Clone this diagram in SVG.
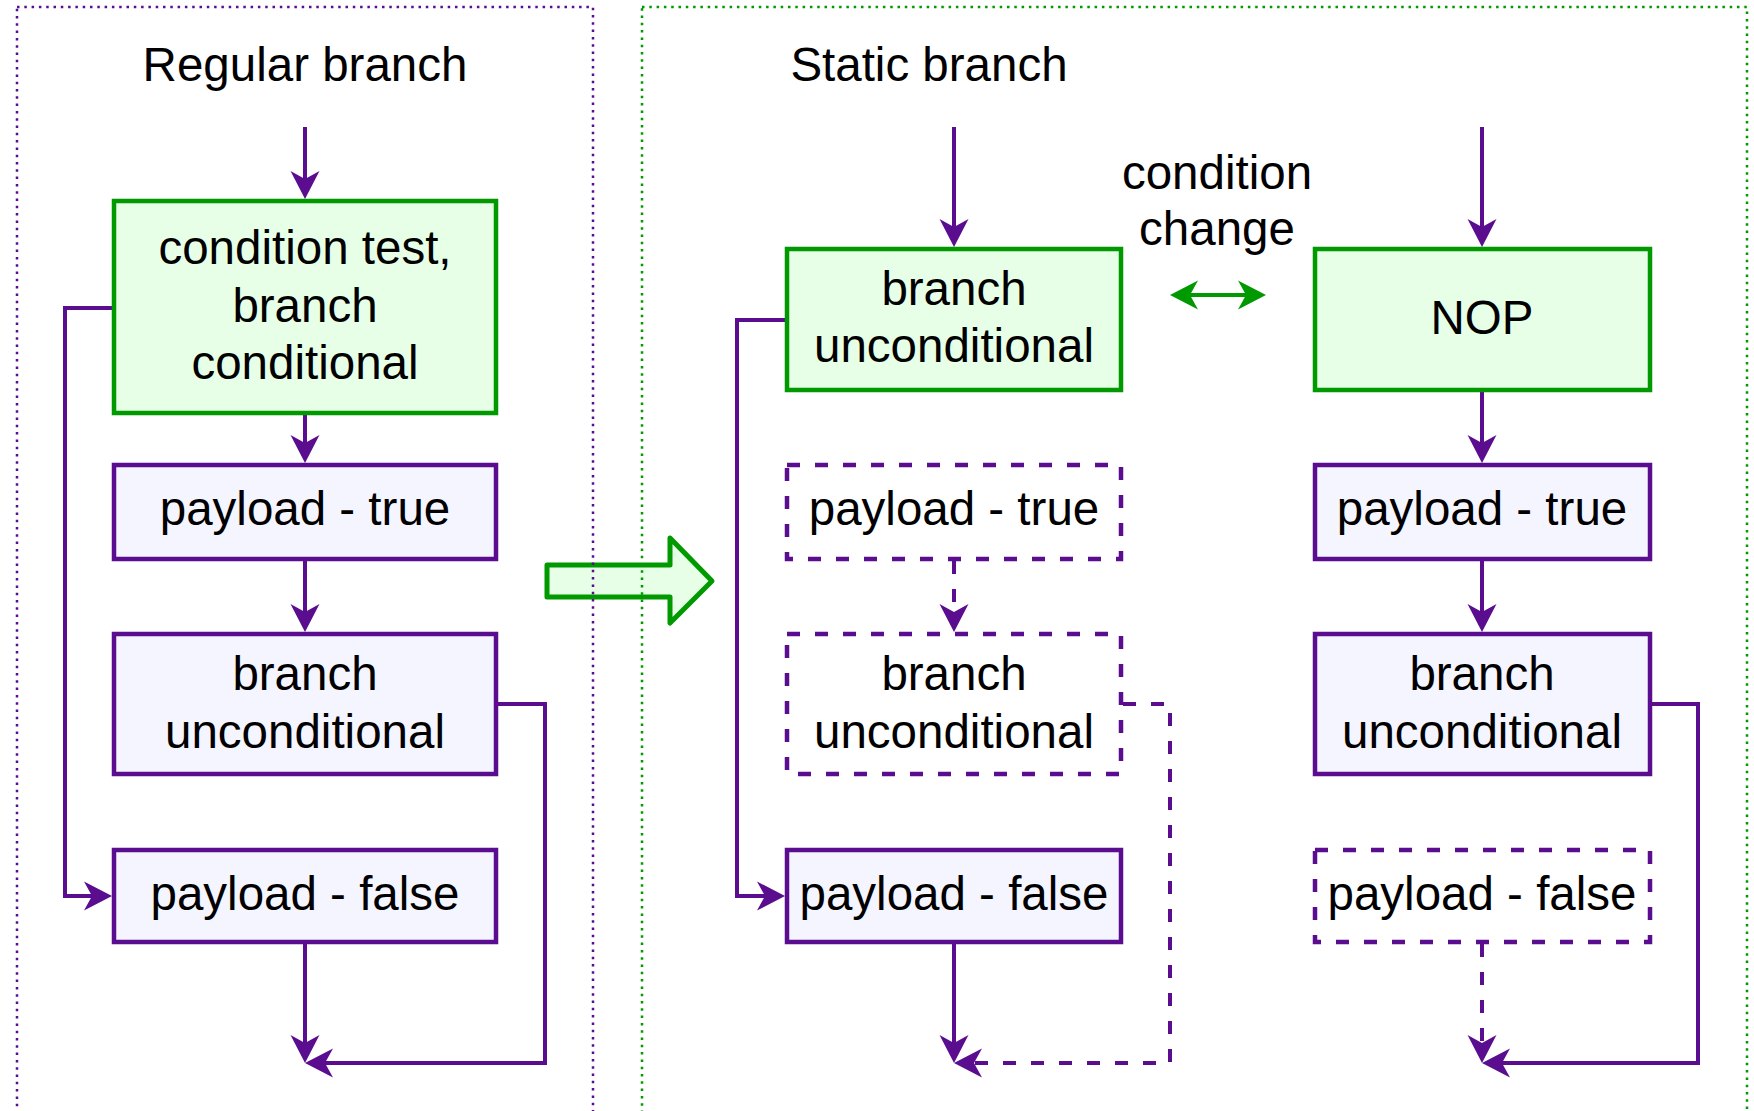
<svg xmlns="http://www.w3.org/2000/svg" width="1754" height="1111" viewBox="0 0 1754 1111">
<style>
text{font-family:"Liberation Sans",Arial,sans-serif;font-size:47.5px;fill:#000;text-anchor:middle}
.g{fill:#E6FFE6;stroke:#009900;stroke-width:4.5}
.p{fill:#F5F5FF;stroke:#5B0D8F;stroke-width:4.5}
.pd{fill:#FFFFFF;stroke:#5B0D8F;stroke-width:4.5;stroke-dasharray:13 15}
.c{fill:none;stroke:#5B0D8F;stroke-width:4;marker-end:url(#arr)}
.cd{fill:none;stroke:#5B0D8F;stroke-width:4;stroke-dasharray:13 15;marker-end:url(#arr)}
</style>
<defs>
<marker id="arr" markerUnits="userSpaceOnUse" markerWidth="30" markerHeight="32" viewBox="0 -16 30 32" refX="8" refY="0" orient="auto">
<path d="M28,0 L0,-14.5 L8,0 L0,14.5 Z" fill="#5B0D8F"/>
</marker>
<marker id="garr" markerUnits="userSpaceOnUse" markerWidth="30" markerHeight="32" viewBox="0 -16 30 32" refX="8" refY="0" orient="auto-start-reverse">
<path d="M28,0 L0,-14.5 L8,0 L0,14.5 Z" fill="#009900"/>
</marker>
</defs>
<rect width="1754" height="1111" fill="#FFFFFF"/>
<g id="big-arrow">
<path d="M547,565 H670 V538 L712,581 L670,623 V597 H547 Z" fill="#E6FFE6" stroke="#009900" stroke-width="5" stroke-linejoin="round"/>
</g>
<g id="panels">
<rect x="17" y="7" width="576" height="1200" fill="none" stroke="#5B0D8F" stroke-width="2.5" stroke-dasharray="2.5 4.8"/>
<rect x="642" y="7" width="1105" height="1200" fill="none" stroke="#009900" stroke-width="2.5" stroke-dasharray="2.5 4.8"/>
</g>
<g id="titles">
<text x="305" y="81">Regular branch</text>
<text x="929" y="81">Static branch</text>
</g>
<g id="condition-change">
<text x="1217" y="189">condition</text>
<text x="1217" y="245">change</text>
<line x1="1190" y1="295" x2="1246" y2="295" stroke="#009900" stroke-width="4" marker-start="url(#garr)" marker-end="url(#garr)"/>
</g>
<g id="connectors">
<path class="c" d="M305,127 V179"/>
<path class="c" d="M305,415 V443"/>
<path class="c" d="M305,561 V612"/>
<path class="c" d="M305,944 V1043"/>
<path class="c" d="M498,704 H545 V1063 H325"/>
<path class="c" d="M112,308 H65 V896 H92"/>
<path class="c" d="M954,127 V227"/>
<path class="cd" d="M954,561 V612"/>
<path class="c" d="M954,944 V1043"/>
<path class="cd" d="M1123,704 H1170 V1063 H974"/>
<path class="c" d="M785,320 H737 V896 H765"/>
<path class="c" d="M1482,127 V227"/>
<path class="c" d="M1482,392 V443"/>
<path class="c" d="M1482,561 V612"/>
<path class="cd" d="M1482,944 V1043"/>
<path class="c" d="M1652,704 H1698 V1063 H1502"/>
</g>
<g id="reg-cond">
<rect class="g" x="114" y="201" width="382" height="212"/>
<text x="305" y="264">condition test,</text>
<text x="305" y="321.5">branch</text>
<text x="305" y="379">conditional</text>
</g>
<g id="reg-true">
<rect class="p" x="114" y="465" width="382" height="94"/>
<text x="305" y="525">payload - true</text>
</g>
<g id="reg-uncond">
<rect class="p" x="114" y="634" width="382" height="140"/>
<text x="305" y="690">branch</text>
<text x="305" y="748">unconditional</text>
</g>
<g id="reg-false">
<rect class="p" x="114" y="850" width="382" height="92"/>
<text x="305" y="910">payload - false</text>
</g>
<g id="st-uncond-top">
<rect class="g" x="787" y="249" width="334" height="141"/>
<text x="954" y="305">branch</text>
<text x="954" y="362">unconditional</text>
</g>
<g id="st-true">
<rect class="pd" x="787" y="465" width="334" height="94"/>
<text x="954" y="525">payload - true</text>
</g>
<g id="st-uncond">
<rect class="pd" x="787" y="634" width="334" height="140"/>
<text x="954" y="690">branch</text>
<text x="954" y="748">unconditional</text>
</g>
<g id="st-false">
<rect class="p" x="787" y="850" width="334" height="92"/>
<text x="954" y="910">payload - false</text>
</g>
<g id="nop">
<rect class="g" x="1315" y="249" width="335" height="141"/>
<text x="1482" y="334">NOP</text>
</g>
<g id="nop-true">
<rect class="p" x="1315" y="465" width="335" height="94"/>
<text x="1482" y="525">payload - true</text>
</g>
<g id="nop-uncond">
<rect class="p" x="1315" y="634" width="335" height="140"/>
<text x="1482" y="690">branch</text>
<text x="1482" y="748">unconditional</text>
</g>
<g id="nop-false">
<rect class="pd" x="1315" y="850" width="335" height="92"/>
<text x="1482" y="910">payload - false</text>
</g>
</svg>
